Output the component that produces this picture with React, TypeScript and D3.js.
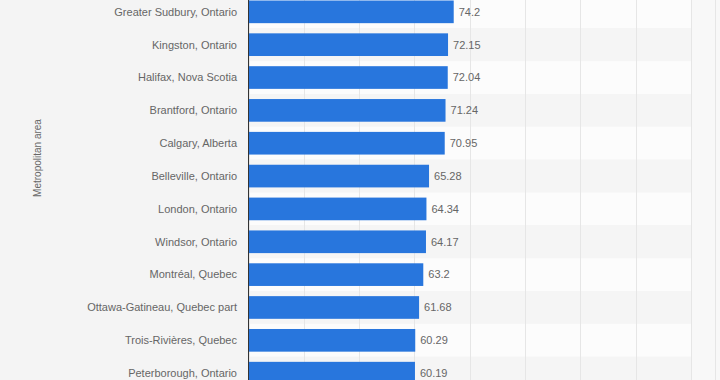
import React from "react";
import * as d3 from "d3";

const categories = [
  "Greater Sudbury, Ontario",
  "Kingston, Ontario",
  "Halifax, Nova Scotia",
  "Brantford, Ontario",
  "Calgary, Alberta",
  "Belleville, Ontario",
  "London, Ontario",
  "Windsor, Ontario",
  "Montréal, Quebec",
  "Ottawa-Gatineau, Quebec part",
  "Trois-Rivières, Quebec",
  "Peterborough, Ontario",
];
const values = [74.2, 72.15, 72.04, 71.24, 70.95, 65.28, 64.34, 64.17, 63.2, 61.68, 60.29, 60.19];
const valueLabels = ["74.2", "72.15", "72.04", "71.24", "70.95", "65.28", "64.34", "64.17", "63.2", "61.68", "60.29", "60.19"];
const xTicks = [0, 20, 40, 60, 80, 100, 120, 140, 160];
const yAxisTitle = "Metropolitan area";

export default function App() {
  const W = 720, H = 380;
  const x = d3.scaleLinear().domain([0, 160]).range([248.5, 691]);
  const y = d3.scaleBand<string>().domain(categories).range([-4.6, 389.6]).paddingInner(0.31).paddingOuter(0.155);
  const step = y.step();
  const font = "'Liberation Sans', Arial, sans-serif";
  return (
    <svg width={W} height={H} style={{ position: "absolute", left: 0, top: 0 }} fontFamily={font}>
      <rect x={0} y={0} width={W} height={H} fill="#f4f4f4" />
      {categories.map((c, i) => (
        <rect key={"s" + c} x={x(0)} y={(y(c) as number) + y.bandwidth() / 2 - step / 2} width={x(160) - x(0)} height={step} fill={i % 2 === 0 ? "#fcfcfc" : "#f5f5f5"} />
      ))}
      <rect x={x(160)} y={0} width={W - x(160)} height={H} fill="#f8f8f8" />
      <line x1={715.5} x2={715.5} y1={0} y2={H} stroke="#e6e6e6" />
      {xTicks.map((t) => (
        <line key={"g" + t} x1={Math.round(x(t)) + 0.5} x2={Math.round(x(t)) + 0.5} y1={0} y2={H} stroke="#e6e6e6" strokeWidth={1} />
      ))}
      {categories.map((c, i) => (
        <rect key={"b" + c} x={x(0)} y={y(c)} width={x(values[i]) - x(0)} height={y.bandwidth()} fill="#2876dd" />
      ))}
      <line x1={248.5} x2={248.5} y1={0} y2={H} stroke="#333" strokeWidth={1} />
      {categories.map((c) => (
        <text key={"l" + c} x={237} y={(y(c) as number) + y.bandwidth() / 2} dy="0.35em" textAnchor="end" fontSize={11} fill="#666">
          {c}
        </text>
      ))}
      {categories.map((c, i) => (
        <text key={"v" + c} x={x(values[i]) + 5} y={(y(c) as number) + y.bandwidth() / 2} dy="0.35em" fontSize={11} fill="#666">
          {valueLabels[i]}
        </text>
      ))}
      <text transform={`translate(41,158) rotate(-90)`} textAnchor="middle" fontSize={10} fill="#666">
        {yAxisTitle}
      </text>
    </svg>
  );
}
